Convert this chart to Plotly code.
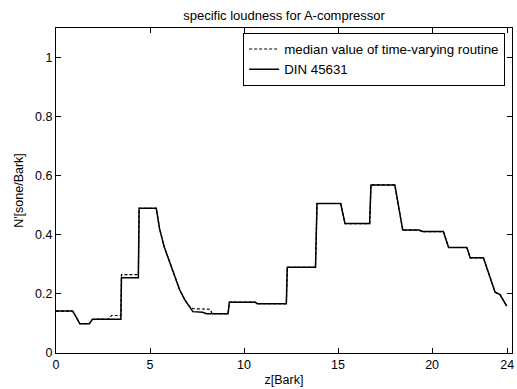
import plotly.graph_objects as go

# DIN 45631 (solid)
z_din = [0, 0.88, 1.0, 1.15, 1.27, 1.77, 1.94, 3.45, 3.48, 4.38, 4.42, 5.33, 5.51, 5.75,
         6.04, 6.3, 6.57, 6.85, 7.1, 7.28, 7.8, 8.0, 9.15, 9.22, 10.6, 10.7, 12.25, 12.3,
         13.8, 13.88, 15.14, 15.37, 16.68, 16.75, 18.02, 18.23, 18.44, 19.3, 19.5, 20.6,
         20.88, 21.85, 22.03, 22.73, 23.0, 23.35, 23.61, 23.88, 23.97]
n_din = [0.142, 0.142, 0.13, 0.11, 0.099, 0.099, 0.114, 0.114, 0.255, 0.255, 0.49, 0.49,
         0.42, 0.36, 0.31, 0.26, 0.215, 0.18, 0.155, 0.14, 0.138, 0.133, 0.133, 0.172,
         0.172, 0.167, 0.167, 0.29, 0.29, 0.506, 0.506, 0.438, 0.438, 0.569, 0.569, 0.49,
         0.416, 0.416, 0.411, 0.411, 0.357, 0.357, 0.322, 0.322, 0.268, 0.206, 0.198,
         0.169, 0.159]

# median value of time-varying routine (dashed)
z_med = [0, 0.88, 1.0, 1.15, 1.27, 1.77, 1.94, 2.8, 2.95, 3.45, 3.48, 4.38, 4.42, 5.33,
         5.51, 5.75, 6.04, 6.3, 6.57, 6.85, 7.1, 7.28, 8.2, 8.3, 9.15, 9.22, 10.6, 10.7,
         12.25, 12.3, 13.8, 13.88, 15.14, 15.37, 16.68, 16.75, 18.02, 18.23, 18.44, 19.3,
         19.5, 20.6, 20.88, 21.85, 22.03, 22.73, 23.0, 23.35, 23.61, 23.88, 23.97]
n_med = [0.142, 0.142, 0.13, 0.11, 0.099, 0.099, 0.114, 0.115, 0.127, 0.127, 0.265,
         0.265, 0.49, 0.49, 0.42, 0.36, 0.31, 0.26, 0.215, 0.18, 0.158, 0.15, 0.148,
         0.133, 0.133, 0.172, 0.172, 0.167, 0.167, 0.29, 0.29, 0.506, 0.506, 0.438,
         0.438, 0.569, 0.569, 0.49, 0.416, 0.416, 0.411, 0.411, 0.357, 0.357, 0.322,
         0.322, 0.268, 0.206, 0.198, 0.169, 0.159]

x_ticks = [0, 5, 10, 15, 20, 24]
y_ticks = [0, 0.2, 0.4, 0.6, 0.8, 1]
y_labels = ["0", "0.2", "0.4", "0.6", "0.8", "1"]

FONT = "Liberation Sans, Arial, sans-serif"

fig = go.Figure()
fig.add_trace(go.Scatter(x=z_med, y=n_med, mode="lines",
                         name="median value of time-varying routine",
                         line=dict(color="black", width=1.2, dash="3px,2px")))
fig.add_trace(go.Scatter(x=z_din, y=n_din, mode="lines", name="DIN 45631",
                         line=dict(color="black", width=1.5)))

axis_common = dict(showline=True, linecolor="black", linewidth=1.2, mirror="ticks",
                   ticks="inside", ticklen=5, tickcolor="black", showgrid=False,
                   zeroline=False, tickfont=dict(family=FONT, size=12.5, color="black"))

fig.update_layout(
    width=517, height=389,
    margin=dict(l=56, r=3, t=28, b=36),
    paper_bgcolor="white", plot_bgcolor="white",
    font=dict(family=FONT, color="black"),
    title=dict(text="specific loudness for A-compressor", x=0.5, xref="paper",
               y=1 - 15 / 389, yref="container", yanchor="middle",
               font=dict(family=FONT, size=13, color="black")),
    xaxis=dict(range=[0, 24.25], tickvals=x_ticks,
               title=dict(text="z[Bark]", standoff=4,
                          font=dict(family=FONT, size=12.5)), **axis_common),
    yaxis=dict(range=[0, 1.1], tickvals=y_ticks, ticktext=y_labels,
               title=dict(text="N'[sone/Bark]", standoff=8,
                          font=dict(family=FONT, size=12.5)), **axis_common),
    legend=dict(x=0.985, y=0.985, xanchor="right", yanchor="top",
                bordercolor="black", borderwidth=1, bgcolor="white",
                font=dict(family=FONT, size=13.3, color="black"),
                tracegroupgap=0, itemwidth=30),
    showlegend=True,
)

fig.write_html("out.html")
